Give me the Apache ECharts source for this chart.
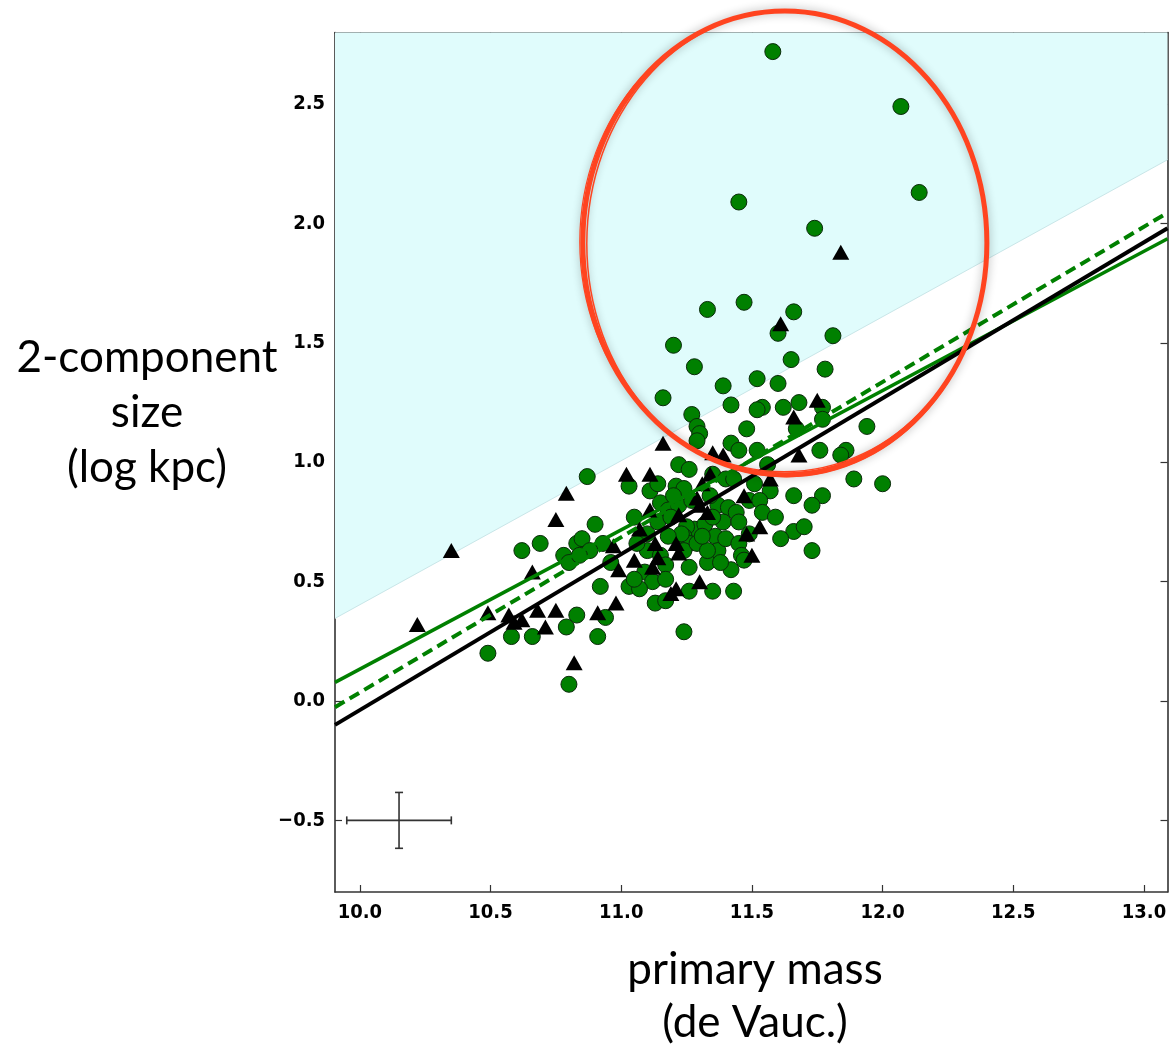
<!DOCTYPE html>
<html><head><meta charset="utf-8">
<script src="https://cdn.jsdelivr.net/npm/echarts@6/dist/echarts.min.js"></script>
<style>html,body{margin:0;padding:0;background:#fff}#c{width:1170px;height:1048px}</style>
</head><body><div id="c"></div>
<script>
// ---- data ----
const xTicks = [10.0, 10.5, 11.0, 11.5, 12.0, 12.5, 13.0];
const yTicks = [-0.5, 0.0, 0.5, 1.0, 1.5, 2.0, 2.5];
const xRange = [9.905, 13.09];
const yRange = [-0.8, 2.8];

const greenPoints = [
[11.58,2.72],[12.07,2.49],[12.14,2.13],[11.45,2.09],[11.74,1.98],[11.47,1.67],[11.33,1.64],[11.66,1.63],
[11.60,1.54],[11.81,1.53],[11.20,1.49],[11.65,1.43],[11.28,1.40],[11.78,1.39],[11.52,1.35],[11.39,1.32],
[11.60,1.33],[11.16,1.27],[11.42,1.24],[11.54,1.23],[11.52,1.22],[11.62,1.23],[11.68,1.25],[11.77,1.23],
[11.77,1.18],[11.27,1.20],[11.48,1.14],[11.94,1.15],[11.67,1.14],[11.29,1.15],[11.30,1.12],[11.29,1.09],
[11.42,1.08],[11.45,1.05],[11.52,1.05],[11.76,1.05],[11.86,1.05],[11.84,1.03],[11.22,0.99],[11.26,0.97],
[11.35,0.95],[11.40,0.93],[11.43,0.93],[11.89,0.93],[12.00,0.91],[11.03,0.90],[11.11,0.88],[11.14,0.91],
[11.21,0.90],[11.24,0.89],[11.66,0.86],[11.77,0.86],[11.73,0.82],[11.57,0.88],[11.51,0.91],[11.15,0.83],
[11.18,0.80],[11.22,0.82],[11.37,0.82],[11.41,0.81],[11.44,0.79],[11.49,0.84],[11.53,0.84],[11.54,0.79],
[11.59,0.77],[11.05,0.77],[11.14,0.75],[11.28,0.72],[11.25,0.73],[11.39,0.75],[11.45,0.75],[11.66,0.71],
[11.70,0.73],[11.61,0.68],[10.93,0.66],[10.96,0.58],[11.10,0.63],[11.15,0.61],[11.17,0.57],[11.24,0.69],
[11.26,0.66],[11.24,0.63],[11.29,0.66],[11.36,0.69],[11.37,0.63],[11.40,0.68],[11.45,0.66],[11.46,0.61],
[11.33,0.58],[11.26,0.56],[11.42,0.55],[11.73,0.63],[11.09,0.54],[11.12,0.50],[11.17,0.51],[11.03,0.48],
[11.07,0.47],[11.26,0.46],[11.35,0.46],[11.43,0.46],[11.13,0.41],[11.17,0.42],[10.92,0.48],[10.94,0.35],
[10.91,0.27],[11.24,0.29],[10.87,0.94],[10.90,0.74],[10.62,0.63],[10.69,0.66],[10.83,0.66],[10.85,0.68],
[10.78,0.61],[10.80,0.58],[10.88,0.63],[10.84,0.61],[10.83,0.36],[10.79,0.31],[10.58,0.27],[10.66,0.27],
[10.49,0.20],[10.80,0.07],[11.05,0.51],[11.33,0.63],[11.47,0.59],
[11.20,0.86],[11.27,0.84],[11.19,0.77],[11.32,0.74],[11.35,0.77],[11.23,0.70],[11.31,0.69],[11.18,0.69],
[11.10,0.70],[11.06,0.66],[11.34,0.86],[11.56,0.99],[11.49,0.70],[11.38,0.58]
];

const trianglePoints = [
[11.84,1.88],[11.61,1.58],[11.75,1.26],[11.66,1.19],[11.16,1.08],[11.02,0.95],[11.11,0.95],[11.35,1.04],
[11.57,0.93],[11.39,1.03],[11.34,0.95],[11.31,0.91],[11.29,0.85],[11.47,0.86],[11.11,0.80],[11.22,0.78],
[11.30,0.82],[11.33,0.79],[11.53,0.73],[11.48,0.70],[11.07,0.72],[11.13,0.66],[11.50,0.61],[10.97,0.65],
[11.21,0.66],[11.22,0.62],[11.05,0.59],[10.99,0.55],[11.14,0.60],[11.12,0.56],[11.30,0.50],[11.21,0.47],
[11.19,0.45],[10.98,0.41],[11.68,1.03],[10.35,0.63],[10.22,0.32],[10.49,0.37],[10.79,0.87],[10.75,0.76],
[10.66,0.54],[10.57,0.36],[10.62,0.34],[10.71,0.31],[10.68,0.38],[10.75,0.38],[10.82,0.16],[10.91,0.37],
[10.59,0.33]
];

const fitBlack = [[9.905, -0.10], [13.09, 1.98]];
const fitGreen = [[9.905, 0.078], [13.09, 1.936]];
const fitGreenDashed = [[9.905, -0.026], [13.09, 2.045]];
const cyanBoundary = [[9.905, 0.346], [13.09, 2.267]];
const errorCross = [[10.15, -0.5, 0.2, 0.117]];
const highlightEllipse = [11.626, 1.919, 0.773, 0.971]; // centre x, centre y, radius x, radius y (data units)

const yTitle = '2-component\nsize\n(log kpc)';
const xTitle = 'primary mass\n(de Vauc.)';

// ---- chart ----
const chart = echarts.init(document.getElementById('c'), null, {renderer: 'canvas'});
const fmt = v => (v < 0 ? '\u2212' : '') + Math.abs(v).toFixed(1);
const axisLineStyle = {color: '#333', width: 1.6};
const labelStyle = {color: '#000', fontSize: 20, fontWeight: 'bold', fontFamily: '"DejaVu Sans Condensed", "DejaVu Sans"'};

function xAxisDef(pos, showLabel) {
  return {
    type: 'value', position: pos, min: xRange[0], max: xRange[1],
    axisLine: {show: true, onZero: false, lineStyle: axisLineStyle},
    axisTick: {show: true, inside: true, length: 7, lineStyle: {color: '#333', width: 1.2}, customValues: xTicks},
    axisLabel: Object.assign({show: showLabel, margin: 11, customValues: xTicks, formatter: fmt}, labelStyle),
    splitLine: {show: false}
  };
}
function yAxisDef(pos, showLabel) {
  return {
    type: 'value', position: pos, min: yRange[0], max: yRange[1],
    axisLine: {show: true, onZero: false, lineStyle: axisLineStyle},
    axisTick: {show: true, inside: true, length: 7, lineStyle: {color: '#333', width: 1.2}, customValues: yTicks},
    axisLabel: Object.assign({show: showLabel, margin: 10, customValues: yTicks, formatter: fmt}, labelStyle),
    splitLine: {show: false}
  };
}

const option = {
  animation: false,
  backgroundColor: '#fff',
  grid: {left: 335, right: 2.5, top: 32.5, bottom: 156, containLabel: false},
  xAxis: [xAxisDef('bottom', true), xAxisDef('top', false)],
  yAxis: [yAxisDef('left', true), yAxisDef('right', false)],
  series: [
    {
      type: 'line', data: cyanBoundary, symbol: 'none', z: 1,
      lineStyle: {color: '#c9e6e8', width: 1},
      areaStyle: {color: '#e0fcfc', opacity: 1, origin: 'end'}
    },
    {
      type: 'scatter', data: greenPoints, symbol: 'circle', symbolSize: 16, z: 3,
      itemStyle: {color: '#008000', borderColor: '#0a2a0a', borderWidth: 1, opacity: 1}
    },
    {
      type: 'scatter', data: trianglePoints, symbol: 'triangle', symbolSize: [17, 15], z: 4,
      itemStyle: {color: '#000', opacity: 1}
    },
    {
      type: 'line', data: fitGreen, symbol: 'none', z: 5,
      lineStyle: {color: '#008000', width: 3.5}
    },
    {
      type: 'line', data: fitGreenDashed, symbol: 'none', z: 5,
      lineStyle: {color: '#008000', width: 4, type: [11, 6]}
    },
    {
      type: 'line', data: fitBlack, symbol: 'none', z: 6,
      lineStyle: {color: '#000', width: 4}
    },
    {
      type: 'custom', data: errorCross, z: 6,
      renderItem: function (params, api) {
        const x = api.value(0), y = api.value(1), ex = api.value(2), ey = api.value(3);
        const l = api.coord([x - ex, y]), r = api.coord([x + ex, y]);
        const t = api.coord([x, y + ey]), b = api.coord([x, y - ey]);
        const cap = 4, st = {stroke: '#333', lineWidth: 1.6};
        const seg = (x1, y1, x2, y2) => ({type: 'line', shape: {x1, y1, x2, y2}, style: st});
        return {type: 'group', children: [
          seg(l[0], l[1], r[0], r[1]), seg(t[0], t[1], b[0], b[1]),
          seg(l[0], l[1] - cap, l[0], l[1] + cap), seg(r[0], r[1] - cap, r[0], r[1] + cap),
          seg(t[0] - cap, t[1], t[0] + cap, t[1]), seg(b[0] - cap, b[1], b[0] + cap, b[1])
        ]};
      }
    }
  ]
};
chart.setOption(option);

// annotation ellipse placed from data coordinates, and axis titles
const c = chart.convertToPixel({gridIndex: 0}, [highlightEllipse[0], highlightEllipse[1]]);
const ex = chart.convertToPixel({gridIndex: 0}, [highlightEllipse[0] + highlightEllipse[2], highlightEllipse[1]]);
const ey = chart.convertToPixel({gridIndex: 0}, [highlightEllipse[0], highlightEllipse[1] + highlightEllipse[3]]);
const rx = ex[0] - c[0], ry = c[1] - ey[1];
const red = '#ff4420';
chart.setOption({
  graphic: [
    {type: 'ellipse', z: 100, shape: {cx: c[0], cy: c[1], rx: rx, ry: ry},
     style: {fill: null, stroke: red, lineWidth: 5, shadowBlur: 10, shadowColor: 'rgba(0,0,0,0.3)'}},
    {type: 'ellipse', z: 101, shape: {cx: c[0] + 2, cy: c[1] + 1, rx: rx - 2, ry: ry + 1},
     style: {fill: null, stroke: red, lineWidth: 1.5}},
    {type: 'ellipse', z: 101, shape: {cx: c[0] - 1, cy: c[1] - 1, rx: rx + 2, ry: ry - 2},
     style: {fill: null, stroke: red, lineWidth: 1.2}},
    {type: 'text', z: 50, style: {text: yTitle, x: 147, y: 413, textAlign: 'center', textVerticalAlign: 'middle',
      fontSize: 44, fontFamily: 'Lato', lineHeight: 55, fill: '#000'}},
    {type: 'text', z: 50, style: {text: xTitle, x: 755, y: 996, textAlign: 'center', textVerticalAlign: 'middle',
      fontSize: 44, fontFamily: 'Lato', lineHeight: 53, fill: '#000'}}
  ]
});
</script></body></html>
